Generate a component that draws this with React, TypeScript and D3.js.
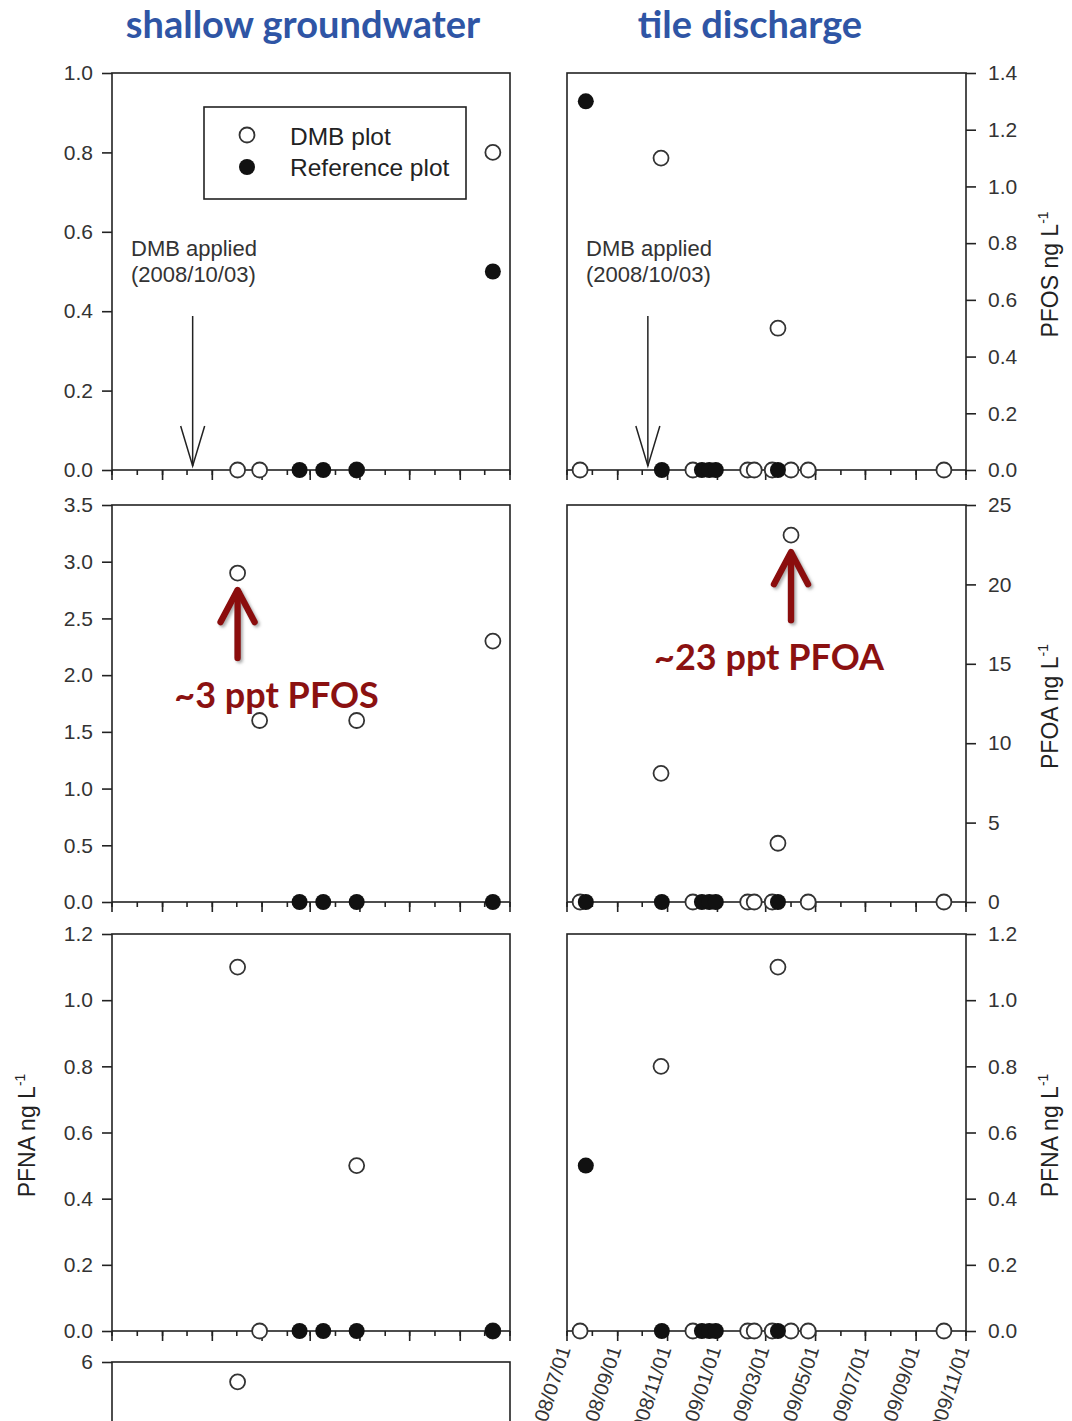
import React, { useEffect, useRef } from "react";
import * as d3 from "d3";

const W = 1072;
const H = 1421;

// sampling dates
const gwDmbDates = ["2008-12-02", "2008-12-29", "2009-04-27", "2009-10-11"];
const gwRefDates = ["2009-02-16", "2009-03-17", "2009-04-27", "2009-10-11"];
const tileDmbDates = ["2008-07-17", "2008-10-24", "2008-12-02", "2009-02-07", "2009-02-15",
  "2009-03-09", "2009-03-16", "2009-04-01", "2009-04-22", "2009-10-05"];
const tileRefDates = ["2008-07-24", "2008-10-25", "2008-12-13", "2008-12-22", "2008-12-30", "2009-03-16"];

// concentrations, ng/L
const gwPfosDmb = [0, 0, 0, 0.8];
const gwPfosRef = [0, 0, 0, 0.5];
const gwPfoaDmb = [2.9, 1.6, 1.6, 2.3];
const gwPfoaRef = [0, 0, 0, 0];
const gwPfnaDmb = [1.1, 0, 0.5, 0];
const gwPfnaRef = [0, 0, 0, 0];
const gwNextDmb = [5.7, null, null, null]; // only top of this panel is on the page
const gwNextRef = [null, null, null, null];

const tilePfosDmb = [0, 1.1, 0, 0, 0, 0, 0.5, 0, 0, 0];
const tilePfosRef = [1.3, 0, 0, 0, 0, 0];
const tilePfoaDmb = [0, 8.1, 0, 0, 0, 0, 3.7, 23.1, 0, 0];
const tilePfoaRef = [0, 0, 0, 0, 0, 0];
const tilePfnaDmb = [0, 0.8, 0, 0, 0, 0, 1.1, 0, 0, 0];
const tilePfnaRef = [0.5, 0, 0, 0, 0, 0];

const titles = ["shallow groundwater", "tile discharge"];
const legendLabels = ["DMB plot", "Reference plot"];
const dmbApplied = "2008-10-03";
const dateStart = "2008-07-01";
const dateEnd = "2009-11-01";

const FONT = "'Liberation Sans', Arial, sans-serif";
const BOLD = "Lato, 'Open Sans', sans-serif";
const BLUE = "#2f55a5";
const RED = "#8b1111";

const parse = d3.timeParse("%Y-%m-%d");
const fmtDate = d3.timeFormat("%Y/%m/%d");

const cols = [
  { x0: 112, x1: 510, side: "left" },
  { x0: 567, x1: 966, side: "right" },
];
const rowTops = [73, 505, 934, 1362];
const PH = 397;

const panels = [
  { col: 0, row: 0, max: 1, step: 0.2, fmt: ".1f", dmb: gwPfosDmb, ref: gwPfosRef, legend: true, arrow: true },
  { col: 0, row: 1, max: 3.5, step: 0.5, fmt: ".1f", dmb: gwPfoaDmb, ref: gwPfoaRef, note: { i: 0, text: "~3 ppt PFOS", dx: 39 } },
  { col: 0, row: 2, max: 1.2, step: 0.2, fmt: ".1f", dmb: gwPfnaDmb, ref: gwPfnaRef, label: "PFNA" },
  { col: 0, row: 3, max: 6, step: 1, fmt: "d", dmb: gwNextDmb, ref: gwNextRef },
  { col: 1, row: 0, max: 1.4, step: 0.2, fmt: ".1f", dmb: tilePfosDmb, ref: tilePfosRef, arrow: true, label: "PFOS" },
  { col: 1, row: 1, max: 25, step: 5, fmt: "d", dmb: tilePfoaDmb, ref: tilePfoaRef, label: "PFOA", note: { i: 7, text: "~23 ppt PFOA", dx: -22 } },
  { col: 1, row: 2, max: 1.2, step: 0.2, fmt: ".1f", dmb: tilePfnaDmb, ref: tilePfnaRef, label: "PFNA", dateLabels: true },
];

function App() {
  const ref = useRef(null);

  useEffect(() => {
    const svg = d3.select(ref.current);
    svg.selectAll("*").remove();

    const defs = svg.append("defs");
    const f = defs.append("filter").attr("id", "shadow").attr("x", "-50%").attr("y", "-50%").attr("width", "200%").attr("height", "200%");
    f.append("feDropShadow").attr("dx", 2).attr("dy", 2).attr("stdDeviation", 1.5).attr("flood-color", "#777").attr("flood-opacity", 0.6);

    svg.append("rect").attr("width", W).attr("height", H).attr("fill", "#fff");

    // column titles
    titles.forEach((t, i) => {
      svg.append("text")
        .attr("x", i === 0 ? 303 : 750).attr("y", 38)
        .attr("text-anchor", "middle")
        .attr("font-family", BOLD).attr("font-weight", 700)
        .attr("font-size", 38).attr("fill", BLUE)
        .text(t);
    });

    panels.forEach((p) => {
      const c = cols[p.col];
      const top = rowTops[p.row];
      const bottom = top + PH;
      const x = d3.scaleTime().domain([parse(dateStart), parse(dateEnd)]).range([c.x0, c.x1]);
      const y = d3.scaleLinear().domain([0, p.max]).range([bottom, top]);
      const g = svg.append("g");

      // box
      g.append("rect").attr("x", c.x0).attr("y", top).attr("width", c.x1 - c.x0).attr("height", PH)
        .attr("fill", "none").attr("stroke", "#222").attr("stroke-width", 1.6);

      // y axis
      const yTicks = d3.range(0, p.max + p.step / 2, p.step);
      const yAxis = (c.side === "left" ? d3.axisLeft(y) : d3.axisRight(y))
        .tickValues(yTicks).tickSize(10).tickPadding(c.side === "left" ? 9 : 12)
        .tickFormat(d3.format(p.fmt));
      const ya = g.append("g").attr("transform", `translate(${c.side === "left" ? c.x0 : c.x1},0)`).call(yAxis);
      ya.select(".domain").remove();
      ya.selectAll("line").attr("stroke", "#222").attr("stroke-width", 1.6);
      ya.selectAll("text").attr("font-family", FONT).attr("font-size", 21).attr("fill", "#333");

      // x axis: monthly minor, two-monthly major
      const minor = d3.timeMonth.range(parse(dateStart), d3.timeDay.offset(parse(dateEnd), 1));
      const major = d3.timeMonth.every(2).range(parse(dateStart), d3.timeDay.offset(parse(dateEnd), 1));
      g.selectAll(".minor").data(minor).join("line")
        .attr("x1", (d) => x(d)).attr("x2", (d) => x(d))
        .attr("y1", bottom).attr("y2", bottom + 5)
        .attr("stroke", "#222").attr("stroke-width", 1.6);
      g.selectAll(".major").data(major).join("line")
        .attr("x1", (d) => x(d)).attr("x2", (d) => x(d))
        .attr("y1", bottom).attr("y2", bottom + 10)
        .attr("stroke", "#222").attr("stroke-width", 1.6);

      if (p.dateLabels) {
        g.selectAll(".dl").data(major).join("text")
          .attr("transform", (d) => `translate(${x(d) + 4},${bottom + 18}) rotate(-72)`)
          .attr("text-anchor", "end")
          .attr("font-family", FONT).attr("font-size", 20).attr("fill", "#333")
          .text((d) => fmtDate(d));
      }

      const dmbDates = c.side === "left" ? gwDmbDates : tileDmbDates;
      const refDates = c.side === "left" ? gwRefDates : tileRefDates;
      const dmbPts = dmbDates.map((d, i) => ({ date: parse(d), v: p.dmb[i] })).filter((d) => d.v != null);
      const refPts = refDates.map((d, i) => ({ date: parse(d), v: p.ref[i] })).filter((d) => d.v != null);

      g.selectAll(".dmb").data(dmbPts).join("circle")
        .attr("cx", (d) => x(d.date)).attr("cy", (d) => y(d.v)).attr("r", 7.5)
        .attr("fill", "#fff").attr("stroke", "#333").attr("stroke-width", 1.8);
      g.selectAll(".ref").data(refPts).join("circle")
        .attr("cx", (d) => x(d.date)).attr("cy", (d) => y(d.v)).attr("r", 8)
        .attr("fill", "#111");

      if (p.arrow) {
        const ax = x(parse(dmbApplied)) + 4;
        g.append("text").attr("x", c.x0 + 19).attr("y", top + 183)
          .attr("font-family", FONT).attr("font-size", 22).attr("fill", "#333").text("DMB applied");
        g.append("text").attr("x", c.x0 + 19).attr("y", top + 209)
          .attr("font-family", FONT).attr("font-size", 22).attr("fill", "#333").text("(2008/10/03)");
        g.append("line").attr("x1", ax).attr("x2", ax).attr("y1", top + 243).attr("y2", bottom - 4)
          .attr("stroke", "#222").attr("stroke-width", 1.5);
        g.append("polyline")
          .attr("points", `${ax - 12},${bottom - 44} ${ax},${bottom - 4} ${ax + 12},${bottom - 44}`)
          .attr("fill", "none").attr("stroke", "#222").attr("stroke-width", 1.5);
      }

      if (p.legend) {
        g.append("rect").attr("x", 204).attr("y", 107).attr("width", 262).attr("height", 92)
          .attr("fill", "#fff").attr("stroke", "#222").attr("stroke-width", 1.6);
        g.append("circle").attr("cx", 247).attr("cy", 135).attr("r", 7.5)
          .attr("fill", "#fff").attr("stroke", "#333").attr("stroke-width", 1.8);
        g.append("circle").attr("cx", 247).attr("cy", 167).attr("r", 8).attr("fill", "#111");
        legendLabels.forEach((t, i) => {
          g.append("text").attr("x", 290).attr("y", 145 + i * 31)
            .attr("font-family", FONT).attr("font-size", 24.5).attr("fill", "#222").text(t);
        });
      }

      if (p.label) {
        const lx = c.side === "left" ? 35 : 1058;
        const ly = top + PH / 2 + 3;
        const t = g.append("text")
          .attr("transform", `translate(${lx},${ly}) rotate(-90)`)
          .attr("text-anchor", "middle")
          .attr("font-family", FONT).attr("font-size", 23).attr("fill", "#222");
        t.append("tspan").text(`${p.label} ng L`);
        t.append("tspan").attr("font-size", 14).attr("dy", -10).text("-1");
      }

      if (p.note) {
        const pt = dmbPts[p.note.i];
        const px = x(pt.date);
        const tip = y(pt.v) + 17;
        const a = g.append("g").attr("filter", "url(#shadow)")
          .attr("stroke", RED).attr("stroke-width", 6.5).attr("fill", "none")
          .attr("stroke-linecap", "round").attr("stroke-linejoin", "round");
        a.append("line").attr("x1", px).attr("x2", px).attr("y1", tip + 2).attr("y2", tip + 68);
        a.append("polyline").attr("points", `${px - 17},${tip + 32} ${px},${tip} ${px + 17},${tip + 32}`);
        g.append("text").attr("x", px + p.note.dx).attr("y", y(pt.v) + 135)
          .attr("text-anchor", "middle")
          .attr("font-family", BOLD).attr("font-weight", 700)
          .attr("font-size", 36).attr("fill", RED)
          .text(p.note.text);
      }
    });
  }, []);

  return (
    <svg ref={ref} width={W} height={H} style={{ position: "absolute", left: 0, top: 0, display: "block" }} />
  );
}

export default App;
